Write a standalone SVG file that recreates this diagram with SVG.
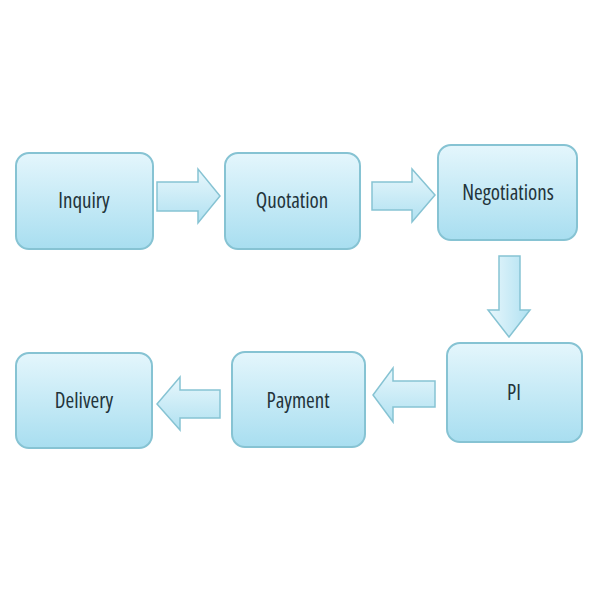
<svg xmlns="http://www.w3.org/2000/svg" width="600" height="600" viewBox="0 0 600 600">
<defs>
<linearGradient id="g" x1="0" y1="0" x2="0" y2="1">
<stop offset="0" stop-color="#e4f6fc"/>
<stop offset="1" stop-color="#a8def0"/>
</linearGradient>
<linearGradient id="ga" x1="0" y1="0" x2="0" y2="1">
<stop offset="0" stop-color="#e8f7fc"/>
<stop offset="1" stop-color="#b0e1f1"/>
</linearGradient>
<linearGradient id="gv" x1="0" y1="0" x2="1" y2="0">
<stop offset="0" stop-color="#e8f7fc"/>
<stop offset="1" stop-color="#b0e1f1"/>
</linearGradient>
</defs>
<style>
.box{fill:url(#g);stroke:#86c3d3;stroke-width:2}
.arr{fill:url(#ga);stroke:#86c3d3;stroke-width:1.5;stroke-linejoin:miter}
.arrv{fill:url(#gv);stroke:#86c3d3;stroke-width:1.5}
text{font-family:"Open Sans","Liberation Sans",sans-serif;font-size:21px;fill:#23343b;text-anchor:middle;font-stretch:condensed;font-weight:500}
</style>
<rect width="600" height="600" fill="#ffffff"/>
<g id="connectors">
<polygon class="arr" points="157,182 198,182 198,169 220,196 198,223 198,211 157,211"/>
<polygon class="arr" points="372,182 412,182 412,169 435,195 412,222 412,210 372,210"/>
<polygon class="arrv" points="499,256 520,256 520,310 530,310 509,337 488,310 499,310"/>
<polygon class="arr" points="435,381 393,381 393,368 373,395 393,422 393,407 435,407"/>
<polygon class="arr" points="220,390 180,390 180,377 157,404 180,430 180,418 220,418"/>
</g>
<g id="inquiry">
<rect class="box" x="16" y="153" width="137" height="96" rx="13"/>
<text x="84" y="208">Inquiry</text>
</g>
<g id="quotation">
<rect class="box" x="225" y="153" width="135" height="96" rx="13"/>
<text x="292" y="208">Quotation</text>
</g>
<g id="negotiations">
<rect class="box" x="438" y="145" width="139" height="95" rx="13"/>
<text x="508" y="200">Negotiations</text>
</g>
<g id="pi">
<rect class="box" x="447" y="343" width="135" height="99" rx="13"/>
<text x="514" y="400">PI</text>
</g>
<g id="payment">
<rect class="box" x="232" y="352" width="133" height="95" rx="13"/>
<text x="298" y="408">Payment</text>
</g>
<g id="delivery">
<rect class="box" x="16" y="353" width="136" height="95" rx="13"/>
<text x="84" y="408">Delivery</text>
</g>
</svg>
